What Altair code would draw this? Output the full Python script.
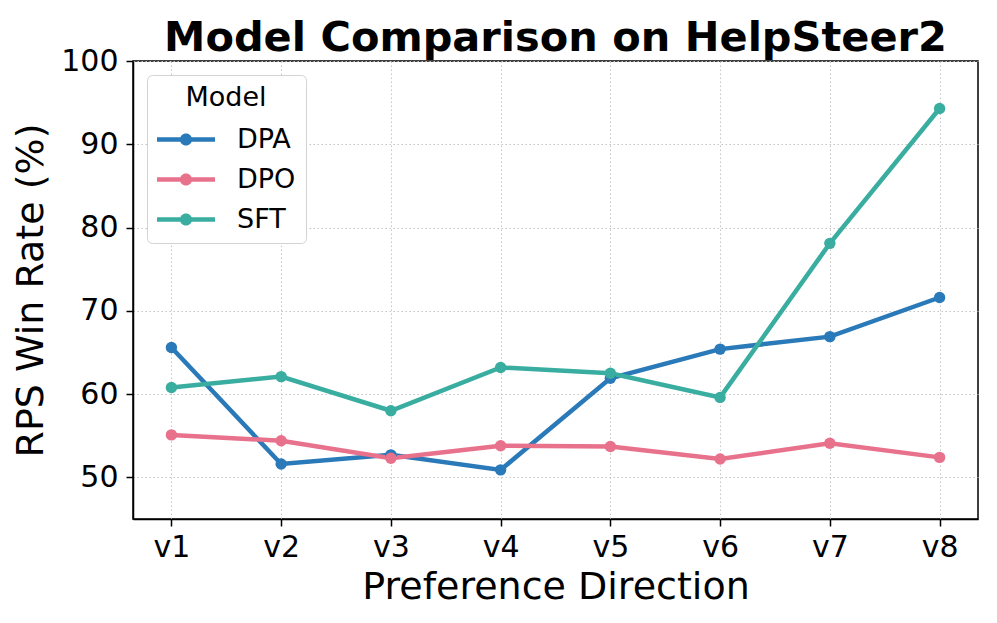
import altair as alt
import pandas as pd

directions = ["v1", "v2", "v3", "v4", "v5", "v6", "v7", "v8"]
models = ["DPA", "DPO", "SFT"]
dpa = [65.6, 51.6, 52.7, 50.9, 61.9, 65.4, 66.9, 71.6]
dpo = [55.1, 54.4, 52.3, 53.8, 53.7, 52.2, 54.1, 52.4]
sft = [60.8, 62.1, 58.0, 63.2, 62.5, 59.6, 78.1, 94.3]
colors = ["#2a79b8", "#e8718c", "#3aada1"]
y_ticks = [50, 60, 70, 80, 90, 100]

series = {"DPA": dpa, "DPO": dpo, "SFT": sft}
rows = []
for m in models:
    for d, v in zip(directions, series[m]):
        rows.append({"Direction": d, "Model": m, "Rate": v})
df = pd.DataFrame(rows)

legend_path = ("M-1,-0.15L3,-0.15L3,0.15L-1,0.15Z "
               "M1.42,0A0.42,0.42 0 1,1 0.58,0A0.42,0.42 0 1,1 1.42,0Z")

x_enc = alt.X("Direction:N", sort=directions,
              scale=alt.Scale(type="point", padding=0.35),
              axis=alt.Axis(title="Preference Direction", labelAngle=0))
y_enc = alt.Y("Rate:Q", scale=alt.Scale(domain=[45, 100], nice=False, zero=False),
              axis=alt.Axis(title="RPS Win Rate (%)", values=y_ticks))
color_scale = alt.Scale(domain=models, range=colors)


def make_legend():
    return alt.Legend(title="Model", symbolType=legend_path, symbolSize=841,
                      orient="none", legendX=14, legendY=14)


base = alt.Chart(df)
lines = base.mark_line(strokeWidth=4.5).encode(
    x=x_enc, y=y_enc,
    stroke=alt.Stroke("Model:N", scale=color_scale, legend=make_legend()))
pts = base.mark_circle(size=130, opacity=1).encode(
    x=x_enc, y=y_enc,
    fill=alt.Fill("Model:N", scale=color_scale, legend=make_legend()))

chart = alt.layer(lines, pts).properties(
    width=845, height=458,
    title=alt.Title("Model Comparison on HelpSteer2", fontSize=41.5, fontWeight="bold",
                    font="DejaVu Sans", anchor="middle", offset=-13),
    autosize=alt.AutoSizeParams(type="none"),
    padding={"left": 125, "top": 53, "right": 11, "bottom": 96},
).configure_view(
    stroke="black", strokeWidth=1.5
).configure_axis(
    labelFont="DejaVu Sans", titleFont="DejaVu Sans",
    labelFontSize=30, titleFontSize=38, titleFontWeight="normal",
    labelColor="black", titleColor="black",
    domainColor="black", domainWidth=1.5,
    tickColor="black", tickWidth=1.5, tickSize=7,
    grid=True, gridColor="#c4c4c4", gridDash=[1.5, 2.5], gridWidth=1,
).configure_axisX(
    labelPadding=6, titlePadding=6,
).configure_axisY(
    labelPadding=8, titlePadding=10,
).configure_legend(
    labelFont="DejaVu Sans", titleFont="DejaVu Sans",
    labelFontSize=27, titleFontSize=27, titleFontWeight="normal",
    labelColor="black", titleColor="black",
    titleAnchor="middle", labelOffset=51, rowPadding=12, titlePadding=13,
    padding=10, strokeColor="#d3d3d3", fillColor="white", cornerRadius=5,
    symbolStrokeWidth=0,
)

chart.save("out.html", embed_options={"renderer": "svg", "actions": False})
